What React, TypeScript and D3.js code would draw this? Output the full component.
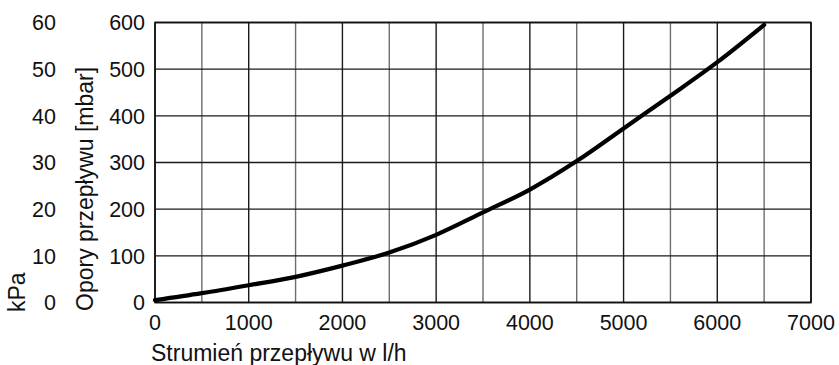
import React from 'react';
import * as d3 from 'd3';

// flow in l/h and pressure loss in mbar
const flowValues = [0, 500, 1000, 1500, 2000, 2500, 3000, 3500, 4000, 4500, 5000, 5500, 6000, 6500];
const pressureValues = [5, 20, 37, 55, 79, 107, 145, 193, 242, 303, 373, 443, 515, 595];

const flowTicks = [0, 1000, 2000, 3000, 4000, 5000, 6000, 7000];
const mbarTicks = [0, 100, 200, 300, 400, 500, 600];
const kpaLabels = ['0', '10', '20', '30', '40', '50', '60'];

const xLabel = 'Strumień przepływu w l/h';
const yLabel = 'Opory przepływu [mbar]';
const kpaTitle = 'kPa';

const W = 839;
const H = 365;
const FONT = '"Liberation Sans", Arial, sans-serif';
const TICK_SIZE = 21.5;
const LABEL_SIZE = 23;

export default function App() {
    const x = d3.scaleLinear().domain([0, 7000]).range([155, 811]);
    const y = d3.scaleLinear().domain([0, 600]).range([302.5, 22.5]);

    const line = d3.line<number>()
        .x((d, i) => x(flowValues[i]))
        .y(d => y(d))
        .curve(d3.curveMonotoneX);

    // grid every 500 l/h, lighter on the half steps
    const vGrid = x.ticks(14);

    return (
        <svg width={W} height={H} style={{ position: 'absolute', left: 0, top: 0, background: '#fff' }}
            fontFamily={FONT}>
            {vGrid.map(v => (
                <line key={'v' + v} x1={x(v)} x2={x(v)} y1={y(600)} y2={y(0)}
                    stroke={v % 1000 === 0 ? '#1a1a1a' : '#6e6e6e'} strokeWidth={1.4} />
            ))}
            {mbarTicks.map(v => (
                <line key={'h' + v} x1={x(0)} x2={x(7000)} y1={y(v)} y2={y(v)}
                    stroke="#1a1a1a" strokeWidth={1.4} />
            ))}
            <rect x={x(0)} y={y(600)} width={x(7000) - x(0)} height={y(0) - y(600)}
                fill="none" stroke="#111" strokeWidth={1.6} />

            <path d={line(pressureValues) || ''} fill="none" stroke="#000" strokeWidth={4.2}
                strokeLinecap="round" />

            {flowTicks.map(v => (
                <text key={'xt' + v} x={x(v)} y={329.5} fontSize={TICK_SIZE} textAnchor="middle" fill="#111">
                    {v}
                </text>
            ))}
            {mbarTicks.map(v => (
                <text key={'yt' + v} x={145} y={y(v) + 7.8} fontSize={TICK_SIZE} textAnchor="end" fill="#111">
                    {v}
                </text>
            ))}
            {mbarTicks.map((v, i) => (
                <text key={'kt' + v} x={56} y={y(v) + 7.8} fontSize={TICK_SIZE} textAnchor="end" fill="#111">
                    {kpaLabels[i]}
                </text>
            ))}

            <text x={151} y={361} fontSize={LABEL_SIZE} fill="#111">{xLabel}</text>
            <text transform="translate(93,311) rotate(-90)" fontSize={LABEL_SIZE} fill="#111">{yLabel}</text>
            <text transform="translate(25,312) rotate(-90)" fontSize={LABEL_SIZE} fill="#111">{kpaTitle}</text>
        </svg>
    );
}
